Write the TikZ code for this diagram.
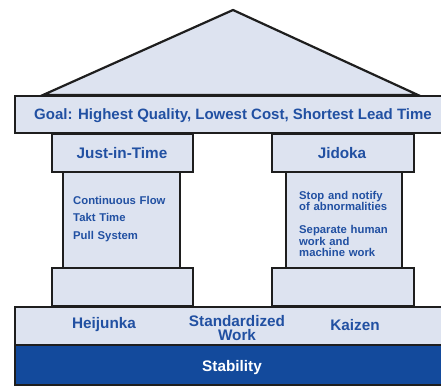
\documentclass[tikz,border=0pt]{standalone}
\usepackage{fontspec}
\setmainfont{Liberation Sans}
\definecolor{pale}{HTML}{DDE3F0}
\definecolor{ink}{HTML}{2150A2}
\definecolor{deep}{HTML}{134A9C}
\definecolor{edge}{HTML}{1E1E1E}
\tikzset{
  part/.style={draw=edge, fill=pale, line width=2.2pt},
  title/.style={text=ink, font=\bfseries\fontsize{15.3}{16}\selectfont, inner sep=0pt},
  small/.style={text=ink, font=\bfseries\fontsize{11.3}{11.3}\selectfont, inner sep=0pt, align=left},
}
\begin{document}
\begin{tikzpicture}[x=1pt,y=-1pt]
\useasboundingbox (0,0) rectangle (441,388);
\clip (0,0) rectangle (441,388);
% roof
\draw[part] (43,95) coordinate (rl) -- (233,10) coordinate (apex) -- (418,95) coordinate (rr) -- cycle;
% goal band
\draw[part] (15,96) rectangle (445,133);
\node[title, font=\bfseries\fontsize{15}{16}\selectfont] (goal) at (233,116) {Goal: Highest Quality, Lowest Cost, Shortest Lead Time};
% left pillar
\draw[part] (63,172) rectangle (180,268);
\draw[part] (52,134) rectangle (193,172);
\draw[part] (52,268) rectangle (193,306);
\node[title] (jit) at (122,153) {Just-in-Time};
\node[small, anchor=north west, text width=110pt, font=\bfseries\fontsize{11.3}{17.5}\selectfont] (jitlist) at (73,196) {Continuous Flow\\Takt Time\\Pull System};
% right pillar
\draw[part] (286,172) rectangle (402,268);
\draw[part] (272,134) rectangle (414,172);
\draw[part] (272,268) rectangle (414,306);
\node[title] (jid) at (342,153) {Jidoka};
\node[small, anchor=north west, text width=112pt] (jidlist) at (299,191) {Stop and notify\\of abnormalities\\[12pt]Separate human\\work and\\machine work};
% foundation
\draw[part] (15,307) rectangle (445,345);
\node[title] (hei) at (104,325) {Heijunka};
\node[title, align=center, font=\bfseries\fontsize{15.3}{14.5}\selectfont] (std) at (237,328) {Standardized\\Work};
\node[title] (kai) at (355,325) {Kaizen};
\draw[draw=edge, fill=deep, line width=2.2pt] (15,345) rectangle (445,385);
\node[title, text=white] (stab) at (232,368) {Stability};
\end{tikzpicture}
\end{document}
